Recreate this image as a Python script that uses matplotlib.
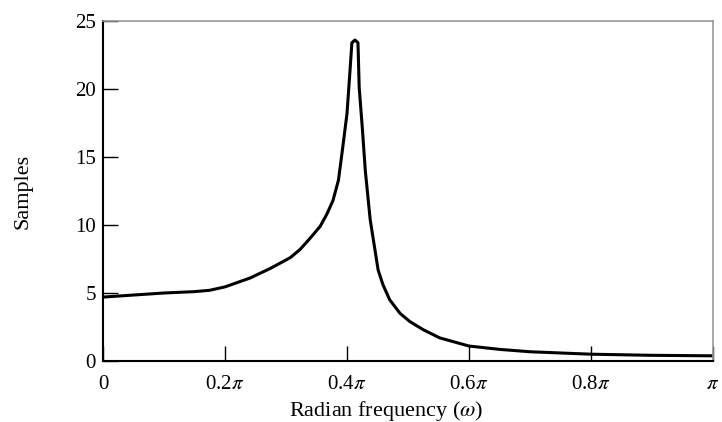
import matplotlib
matplotlib.use("Agg")
import matplotlib.pyplot as plt
import numpy as np

# frequency as fraction of pi, and magnitude
w_frac = [0.0, 0.05, 0.10, 0.15, 0.175, 0.20, 0.241, 0.274, 0.307, 0.323, 0.339,
          0.356, 0.367, 0.377, 0.386, 0.393, 0.400, 0.405, 0.408, 0.413, 0.418,
          0.420, 0.425, 0.430, 0.438, 0.451, 0.459, 0.470, 0.487, 0.503, 0.525,
          0.552, 0.600, 0.651, 0.700, 0.800, 0.897, 1.0]
samples = [4.7, 4.85, 5.0, 5.1, 5.2, 5.45, 6.1, 6.8, 7.6, 8.2, 9.0,
           9.9, 10.8, 11.8, 13.3, 15.7, 18.2, 21.4, 23.4, 23.6, 23.4,
           20.1, 17.2, 14.0, 10.4, 6.7, 5.6, 4.5, 3.5, 2.9, 2.3,
           1.7, 1.1, 0.85, 0.68, 0.5, 0.42, 0.38]

x_ticks = [0, 0.2, 0.4, 0.6, 0.8, 1.0]
x_tick_labels = ["0", r"0.2$\pi$", r"0.4$\pi$", r"0.6$\pi$", r"0.8$\pi$", r"$\pi$"]
y_ticks = [0, 5, 10, 15, 20, 25]

plt.rcParams["font.family"] = ["Liberation Serif", "DejaVu Serif"]
plt.rcParams["mathtext.fontset"] = "stix"

fig = plt.figure(figsize=(7.22, 4.22), dpi=100)
ax = fig.add_axes([103 / 722, 1 - 361 / 422, 610 / 722, 340 / 422])

w = np.array(w_frac) * np.pi
ax.plot(w, samples, color="black", linewidth=2.2, solid_joinstyle="round")

ax.set_xlim(0, np.pi)
ax.set_ylim(0, 25)
ax.set_xticks(np.array(x_ticks) * np.pi)
ax.set_xticklabels(x_tick_labels)
ax.set_yticks(y_ticks)

ax.tick_params(direction="in", length=11, width=1, labelsize=15)
ax.tick_params(axis="x", pad=10)
ax.tick_params(axis="y", pad=5)
for side in ["left", "bottom"]:
    ax.spines[side].set_linewidth(1.5)
for side in ["top", "right"]:
    ax.spines[side].set_color("#999999")
    ax.spines[side].set_linewidth(1.2)

ax.set_xlabel(r"Radian frequency ($\omega$)", fontsize=16)
ax.xaxis.set_label_coords(0.464, -0.112)
ax.set_ylabel("Samples", fontsize=16)
ax.yaxis.set_label_coords(-0.116, 0.5)

fig.savefig("out.png", dpi=100)
